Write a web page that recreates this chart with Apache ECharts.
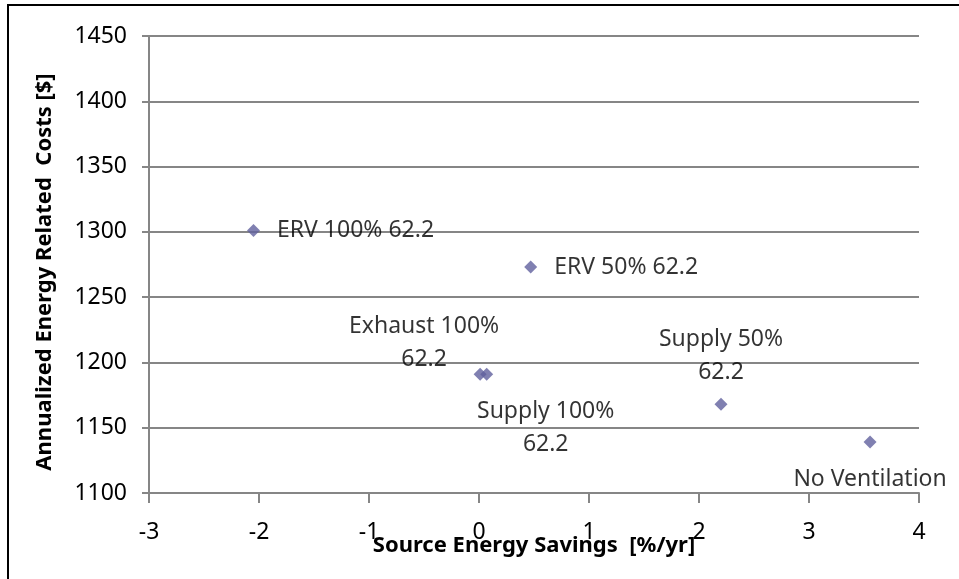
<!DOCTYPE html>
<html>
<head>
<meta charset="utf-8">
<script src="https://cdn.jsdelivr.net/npm/echarts@6/dist/echarts.min.js"></script>
<style>
  html, body { margin: 0; padding: 0; background: #fff; }
  #chart { width: 959px; height: 579px; }
</style>
</head>
<body>
<div id="chart"></div>
<script>
// 数据
const names = ['ERV 100% 62.2', 'ERV 50% 62.2', 'Exhaust 100%\n62.2', 'Supply 100%\n62.2', 'Supply 50%\n62.2', 'No Ventilation']
const savings = [-2.05, 0.47, 0.01, 0.07, 2.2, 3.555]
const costs = [1301, 1273, 1191, 1191, 1168, 1139]

// 标签位置（按名称）
const labelPos = {
  'ERV 100% 62.2': { position: 'right', distance: 17, align: 'left' },
  'ERV 50% 62.2': { position: 'right', distance: 17, align: 'left' },
  'Exhaust 100%\n62.2': { position: 'inside', offset: [-56, -31], align: 'center' },
  'Supply 100%\n62.2': { position: 'inside', offset: [59, 54], align: 'center' },
  'Supply 50%\n62.2': { position: 'inside', offset: [0, -48], align: 'center' },
  'No Ventilation': { position: 'inside', offset: [0, 37], align: 'center' }
}

const FONT = 'Noto Sans'
const chart = echarts.init(document.getElementById('chart'))

const points = names.map((n, i) => ({
  name: n,
  value: [savings[i], costs[i]],
  label: Object.assign({ show: true, formatter: '{b}' }, labelPos[n])
}))

const gridColor = '#868686'

const option = {
  animation: false,
  textStyle: { fontFamily: FONT },
  grid: { left: 149, right: 40, top: 36, bottom: 86, containLabel: false },
  graphic: [{
    type: 'rect',
    shape: { x: 8, y: 5, width: 1000, height: 1000 },
    style: { fill: 'none', stroke: '#000', lineWidth: 2 },
    silent: true
  }, {
    // 纵轴标题
    type: 'text',
    x: 45,
    y: 272,
    rotation: Math.PI / 2,
    style: {
      text: 'Annualized Energy Related  Costs [$]',
      font: 'bold 22px "Noto Sans"',
      fill: '#000',
      align: 'center',
      verticalAlign: 'middle'
    },
    silent: true
  }],
  xAxis: {
    type: 'value',
    min: -3,
    max: 4,
    interval: 1,
    name: 'Source Energy Savings  [%/yr]',
    nameLocation: 'middle',
    nameGap: 42,
    nameMoveOverlap: false,
    nameTextStyle: { fontFamily: FONT, fontWeight: 'bold', fontSize: 22, color: '#000' },
    axisLine: { show: true, onZero: false, lineStyle: { color: gridColor, width: 2 } },
    axisTick: { show: true, inside: false, length: 10, lineStyle: { color: gridColor, width: 2 } },
    axisLabel: { color: '#000', fontSize: 23, fontFamily: FONT, margin: 28, formatter: v => String(v) },
    splitLine: { show: false }
  },
  yAxis: {
    type: 'value',
    min: 1100,
    max: 1450,
    interval: 50,
    axisLine: { show: true, onZero: false, lineStyle: { color: gridColor, width: 2 } },
    axisTick: { show: true, length: 7, lineStyle: { color: gridColor, width: 2 } },
    axisLabel: { color: '#000', fontSize: 23, fontFamily: FONT, margin: 22, formatter: v => String(v) },
    splitLine: { show: true, lineStyle: { color: gridColor, width: 2 } }
  },
  series: [{
    type: 'scatter',
    symbol: 'diamond',
    symbolSize: 13,
    itemStyle: { color: '#60609E' },
    label: {
      color: '#000',
      fontSize: 23,
      fontFamily: FONT,
      lineHeight: 33
    },
    data: points
  }]
}

chart.setOption(option)
</script>
</body>
</html>
